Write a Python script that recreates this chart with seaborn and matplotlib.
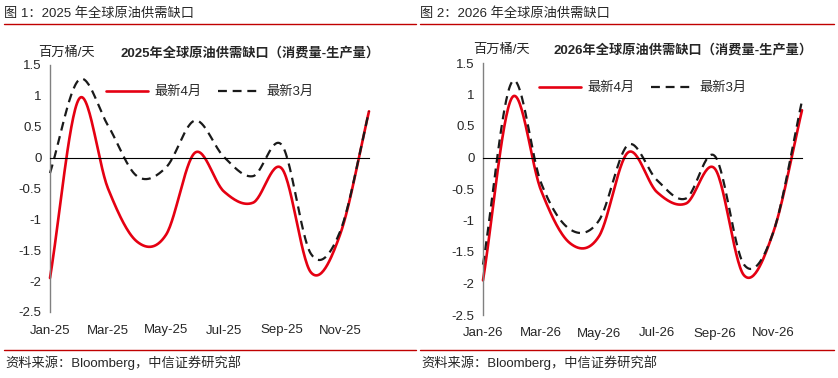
import numpy as np
import pandas as pd
import seaborn as sns
import matplotlib.pyplot as plt
from matplotlib.lines import Line2D

sns.set_style('white')
plt.rcParams['font.family'] = ['Liberation Sans', 'Noto Sans CJK SC', 'DejaVu Sans']
plt.rcParams['axes.unicode_minus'] = False

# monthly values, million barrels/day
months_2025 = ['Jan-25', 'Feb-25', 'Mar-25', 'Apr-25', 'May-25', 'Jun-25',
               'Jul-25', 'Aug-25', 'Sep-25', 'Oct-25', 'Nov-25', 'Dec-25']
months_2026 = ['Jan-26', 'Feb-26', 'Mar-26', 'Apr-26', 'May-26', 'Jun-26',
               'Jul-26', 'Aug-26', 'Sep-26', 'Oct-26', 'Nov-26', 'Dec-26']
apr_2025 = [-1.95, 0.95, -0.5, -1.36, -1.25, 0.08, -0.55, -0.73, -0.18, -1.86, -1.25, 0.75]
mar_2025 = [-0.25, 1.26, 0.52, -0.3, -0.16, 0.6, 0.01, -0.3, 0.2, -1.56, -1.2, 0.75]
apr_2026 = [-1.95, 0.95, -0.52, -1.36, -1.25, 0.08, -0.55, -0.73, -0.18, -1.87, -1.2, 0.75]
mar_2026 = [-1.7, 1.2, -0.4, -1.14, -1.0, 0.2, -0.36, -0.65, 0.02, -1.7, -1.2, 0.9]

RED = '#E50012'
DARK = '#1a1a1a'


def smooth(vals, n=30):
    # catmull-rom curve like Excel "smoothed line"
    p = np.asarray(vals, float)
    p = np.concatenate([[2 * p[0] - p[1]], p, [2 * p[-1] - p[-2]]])
    xs, ys = [], []
    for i in range(1, len(p) - 2):
        t = np.linspace(0, 1, n, endpoint=(i == len(p) - 3))
        m0 = (p[i + 1] - p[i - 1]) / 2
        m1 = (p[i + 2] - p[i]) / 2
        h00 = 2 * t**3 - 3 * t**2 + 1
        h10 = t**3 - 2 * t**2 + t
        h01 = -2 * t**3 + 3 * t**2
        h11 = t**3 - t**2
        ys.append(h00 * p[i] + h10 * m0 + h01 * p[i + 1] + h11 * m1)
        xs.append(i - 1 + t)
    return np.concatenate(xs), np.concatenate(ys)


def panel(ax, months, new, old, title, unit_x, title_x, text_y, leg_x, leg_y):
    xs, ys = smooth(new)
    sns.lineplot(x=xs, y=ys, ax=ax, color=RED, linewidth=1.9, estimator=None,
                 sort=False, label='最新4月', legend=False)
    xs, ys = smooth(old)
    sns.lineplot(x=xs, y=ys, ax=ax, color=DARK, linewidth=1.6, estimator=None,
                 sort=False, label='最新3月', legend=False)
    ax.lines[-1].set_dashes((4, 2.6))
    for ln in ax.lines:
        ln.set_clip_on(False)

    ax.set_xlim(0, len(months) - 1)
    ax.set_ylim(-2.5, 1.5)
    ax.set_yticks(np.arange(-2.5, 1.51, 0.5))
    ax.set_yticklabels(['%g' % v for v in np.arange(-2.5, 1.51, 0.5)], fontsize=9.5)
    ticks = list(range(0, len(months), 2))
    ax.set_xticks(ticks)
    ax.set_xticklabels([])
    ax.tick_params(axis='x', direction='out', length=2, width=0.6, color='#555555')
    ax.tick_params(axis='y', direction='out', length=3, width=0.8, color='#808080', pad=3)

    for s in ['top', 'right']:
        ax.spines[s].set_visible(False)
    ax.spines['bottom'].set_position(('data', 0))
    ax.spines['bottom'].set_color('black')
    ax.spines['bottom'].set_linewidth(0.8)
    ax.spines['left'].set_color('#808080')
    ax.spines['left'].set_linewidth(1.0)
    ax.set_xlabel('')
    ax.set_ylabel('')

    sec = ax.secondary_xaxis(0)
    sec.set_xticks(ticks)
    sec.set_xticklabels([months[i] for i in ticks], fontsize=9.5)
    sec.tick_params(length=0, pad=9)
    sec.spines['bottom'].set_visible(False)

    fig.text(unit_x, text_y, '百万桶/天', fontsize=9.5, va='center')
    fig.text(title_x, text_y, title, fontsize=9.5, fontweight='bold', va='center')

    handles = [Line2D([], [], color=RED, lw=1.9),
               Line2D([], [], color=DARK, lw=1.6, dashes=(4, 2.6))]
    fig.legend(handles, ['最新4月', '最新3月'], loc='center left',
               bbox_to_anchor=(leg_x, leg_y), ncol=2, frameon=False, fontsize=9.5,
               handlelength=3.2, handletextpad=0.45, columnspacing=1.3,
               borderpad=0, borderaxespad=0)


W, H = 838, 378
fig = plt.figure(figsize=(W / 100, H / 100), dpi=100)

ax1 = fig.add_axes([50 / W, 1 - 312 / H, 319 / W, 247 / H])
ax2 = fig.add_axes([483 / W, 1 - 315 / H, 319 / W, 252 / H])

panel(ax1, months_2025, apr_2025, mar_2025, '2025年全球原油供需缺口（消费量-生产量）',
      38 / W, 120 / W, 1 - 53 / H, 106 / W, 1 - 92 / H)
panel(ax2, months_2026, apr_2026, mar_2026, '2026年全球原油供需缺口（消费量-生产量）',
      473 / W, 553 / W, 1 - 50 / H, 539 / W, 1 - 88 / H)

# header, rules and source lines
for x0, x1, num, yr in [(4, 416, '1', '2025'), (420, 834, '2', '2026')]:
    fig.text(x0 / W, 1 - 14 / H, '图 %s：%s 年全球原油供需缺口' % (num, yr),
             fontsize=9.5, va='center', ha='left')
    fig.add_artist(Line2D([x0 / W, x1 / W], [1 - 24 / H, 1 - 24 / H], color='#C00000', lw=1.0))
    fig.add_artist(Line2D([x0 / W, x1 / W], [1 - 350 / H, 1 - 350 / H], color='#C00000', lw=1.0))
    fig.text((x0 + 1) / W, 1 - 363 / H, '资料来源：Bloomberg，中信证券研究部',
             fontsize=9.5, va='center', ha='left')

fig.savefig('out.png', dpi=100, facecolor='white')
